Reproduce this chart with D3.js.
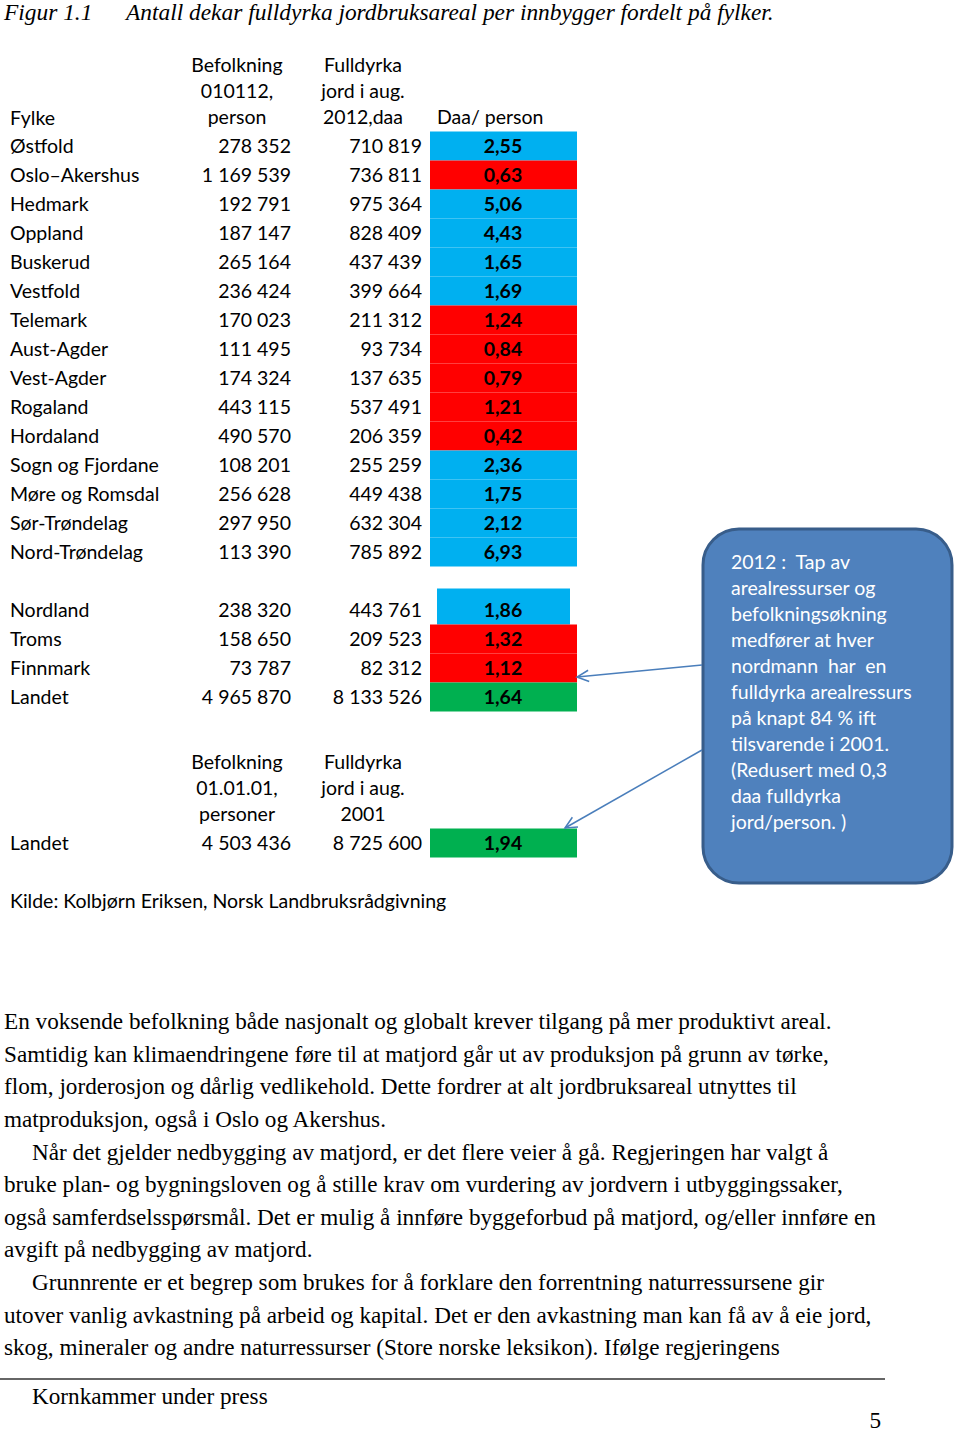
<!DOCTYPE html>
<html><head><meta charset="utf-8">
<script src="https://cdn.jsdelivr.net/npm/d3@7"></script>
<style>body{margin:0;background:#fff}svg{display:block}text{white-space:pre}</style>
</head><body>
<script>
// ---- data ----
const fylker = ["Østfold","Oslo–Akershus","Hedmark","Oppland","Buskerud","Vestfold","Telemark","Aust-Agder","Vest-Agder","Rogaland","Hordaland","Sogn og Fjordane","Møre og Romsdal","Sør-Trøndelag","Nord-Trøndelag","Nordland","Troms","Finnmark","Landet"];
const befolkning = ["278 352","1 169 539","192 791","187 147","265 164","236 424","170 023","111 495","174 324","443 115","490 570","108 201","256 628","297 950","113 390","238 320","158 650","73 787","4 965 870"];
const fulldyrka = ["710 819","736 811","975 364","828 409","437 439","399 664","211 312","93 734","137 635","537 491","206 359","255 259","449 438","632 304","785 892","443 761","209 523","82 312","8 133 526"];
const daaPerPerson = [2.55,0.63,5.06,4.43,1.65,1.69,1.24,0.84,0.79,1.21,0.42,2.36,1.75,2.12,6.93,1.86,1.32,1.12,1.64];
const rowIndex = [0,1,2,3,4,5,6,7,8,9,10,11,12,13,14,16,17,18,19];
const landet2001 = {name:"Landet", befolkning:"4 503 436", fulldyrka:"8 725 600", daa:1.94, row:24};
const headers2012 = [["Befolkning","010112,","person"],["Fulldyrka","jord i aug.","2012,daa"]];
const headers2001 = [["Befolkning","01.01.01,","personer"],["Fulldyrka","jord i aug.","2001"]];
const calloutLines = ["2012 :  Tap av","arealressurser og","befolkningsøkning","medfører at hver","nordmann  har  en","fulldyrka arealressurs","på knapt 84 % ift","tilsvarende i 2001.","(Redusert med 0,3","daa fulldyrka","jord/person. )"];
const bodyLines = [
 ["En voksende befolkning både nasjonalt og globalt krever tilgang på mer produktivt areal.",0],
 ["Samtidig kan klimaendringene føre til at matjord går ut av produksjon på grunn av tørke,",0],
 ["flom, jorderosjon og dårlig vedlikehold. Dette fordrer at alt jordbruksareal utnyttes til",0],
 ["matproduksjon, også i Oslo og Akershus.",0],
 ["Når det gjelder nedbygging av matjord, er det flere veier å gå. Regjeringen har valgt å",1],
 ["bruke plan- og bygningsloven og å stille krav om vurdering av jordvern i utbyggingssaker,",0],
 ["også samferdselsspørsmål. Det er mulig å innføre byggeforbud på matjord, og/eller innføre en",0],
 ["avgift på nedbygging av matjord.",0],
 ["Grunnrente er et begrep som brukes for å forklare den forrentning naturressursene gir",1],
 ["utover vanlig avkastning på arbeid og kapital. Det er den avkastning man kan få av å eie jord,",0],
 ["skog, mineraler og andre naturressurser (Store norske leksikon). Ifølge regjeringens",0]
];
const landetRef = 1.64;

// ---- drawing ----
const W=960,H=1432;
const svg=d3.select("body").append("svg").attr("width",W).attr("height",H);
svg.append("rect").attr("width",W).attr("height",H).attr("fill","#fff");

const tableFont="Lato, 'Open Sans', sans-serif";
const serif="'Liberation Serif','Times New Roman',serif";
const fs=19.5;
const bodyFs=23.2;

// title
const title=svg.append("g").attr("font-family",serif).attr("font-style","italic").attr("font-size",23.4).attr("fill","#000");
title.append("text").attr("x",4).attr("y",12).attr("dy","0.35em").text("Figur 1.1");
title.append("text").attr("x",126).attr("y",12).attr("dy","0.35em").text("Antall dekar fulldyrka jordbruksareal per innbygger fordelt på fylker.");

const y=d3.scaleLinear().domain([0,1]).range([131.5,160.5]);
const rowH=y(1)-y(0);
const xCell=d3.scaleLinear().domain([0,1]).range([430,577]);
const colorOf=(v,i)=> fylker[i]==="Landet" ? "#00B050" : (v>=landetRef ? "#00B0F0" : "#FF0000");

const t=svg.append("g").attr("font-family",tableFont).attr("font-size",fs).attr("fill","#000");

// header 2012
t.append("text").attr("x",10).attr("y",118).attr("dy","0.35em").text("Fylke");
const hdrY=[65,91,117];
headers2012.forEach((h,j)=>{
  const cx=j===0?237:363;
  h.forEach((s,k)=>t.append("text").attr("x",cx).attr("y",hdrY[k]).attr("dy","0.35em").attr("text-anchor","middle").text(s));
});
t.append("text").attr("x",437).attr("y",117).attr("dy","0.35em").text("Daa/ person");

// cells
const rows=fylker.map((f,i)=>({f,b:befolkning[i],fd:fulldyrka[i],v:daaPerPerson[i],r:rowIndex[i],c:colorOf(daaPerPerson[i],i)}));
t.selectAll("rect.cell").data(rows).join("rect").attr("class","cell")
 .attr("x",d=>xCell(0)+(d.f==="Nordland"?7:0))
 .attr("width",d=>xCell(1)-xCell(0)-(d.f==="Nordland"?14:0))
 .attr("y",d=>y(d.r)+(d.f==="Nordland"?-7:0)).attr("height",d=>rowH+(d.f==="Nordland"?7:0))
 .attr("fill",d=>d.c);
const rowsG=t.selectAll("g.row").data(rows).join("g").attr("class","row").attr("transform",d=>`translate(0,${y(d.r)+rowH/2})`);
rowsG.append("text").attr("x",10).attr("dy","0.35em").text(d=>d.f);
rowsG.append("text").attr("x",291).attr("dy","0.35em").attr("text-anchor","end").text(d=>d.b);
rowsG.append("text").attr("x",422).attr("dy","0.35em").attr("text-anchor","end").text(d=>d.fd);
rowsG.append("text").attr("x",503).attr("dy","0.35em").attr("text-anchor","middle").attr("font-weight","bold").text(d=>d3.format(".2f")(d.v).replace(".",","));

// header 2001
const hdr2Y=[762,788,814];
headers2001.forEach((h,j)=>{
  const cx=j===0?237:363;
  h.forEach((s,k)=>t.append("text").attr("x",cx).attr("y",hdr2Y[k]).attr("dy","0.35em").attr("text-anchor","middle").text(s));
});
const y2=y(landet2001.row)+1;
t.append("rect").attr("x",xCell(0)).attr("width",xCell(1)-xCell(0)).attr("y",y2).attr("height",rowH).attr("fill","#00B050");
const l2=t.append("g").attr("transform",`translate(0,${y2+rowH/2})`);
l2.append("text").attr("x",10).attr("dy","0.35em").text(landet2001.name);
l2.append("text").attr("x",291).attr("dy","0.35em").attr("text-anchor","end").text(landet2001.befolkning);
l2.append("text").attr("x",422).attr("dy","0.35em").attr("text-anchor","end").text(landet2001.fulldyrka);
l2.append("text").attr("x",503).attr("dy","0.35em").attr("text-anchor","middle").attr("font-weight","bold").text(d3.format(".2f")(landet2001.daa).replace(".",","));

t.append("text").attr("x",10).attr("y",901).attr("dy","0.35em").text("Kilde: Kolbjørn Eriksen, Norsk Landbruksrådgivning");

// callout
svg.append("rect").attr("x",703).attr("y",529).attr("width",249).attr("height",354).attr("rx",36).attr("ry",36)
 .attr("fill","#4F81BD").attr("stroke","#385D8A").attr("stroke-width",3);
const cg=svg.append("g").attr("font-family",tableFont).attr("font-size",fs).attr("fill","#fff");
calloutLines.forEach((s,i)=>cg.append("text").attr("x",731).attr("y",562+i*26).attr("dy","0.35em").text(s));

// arrows
const arrowColor="#4A7EBB";
function arrow(x1,y1,x2,y2){
  svg.append("line").attr("x1",x1).attr("y1",y1).attr("x2",x2).attr("y2",y2).attr("stroke",arrowColor).attr("stroke-width",1.5);
  const a=Math.atan2(y2-y1,x2-x1), L=13, s=0.45;
  const p=[[x2-L*Math.cos(a-s),y2-L*Math.sin(a-s)],[x2,y2],[x2-L*Math.cos(a+s),y2-L*Math.sin(a+s)]];
  svg.append("path").attr("d",d3.line()(p)).attr("fill","none").attr("stroke",arrowColor).attr("stroke-width",1.5);
}
arrow(702,665,577,677);
arrow(702,750,565,828);

// body text
const bg=svg.append("g").attr("font-family",serif).attr("font-size",bodyFs).attr("fill","#000");
bodyLines.forEach(([s,ind],i)=>bg.append("text").attr("x",ind?32:4).attr("y",1021+i*32.6).attr("dy","0.35em").text(s));

// footer
svg.append("line").attr("x1",0).attr("x2",885).attr("y1",1379).attr("y2",1379).attr("stroke","#333").attr("stroke-width",1.5);
svg.append("text").attr("x",32).attr("y",1396).attr("dy","0.35em").attr("font-family",serif).attr("font-size",bodyFs).text("Kornkammer under press");
svg.append("text").attr("x",881).attr("y",1420).attr("dy","0.35em").attr("text-anchor","end").attr("font-family",serif).attr("font-size",bodyFs).text("5");
</script>
</body></html>
